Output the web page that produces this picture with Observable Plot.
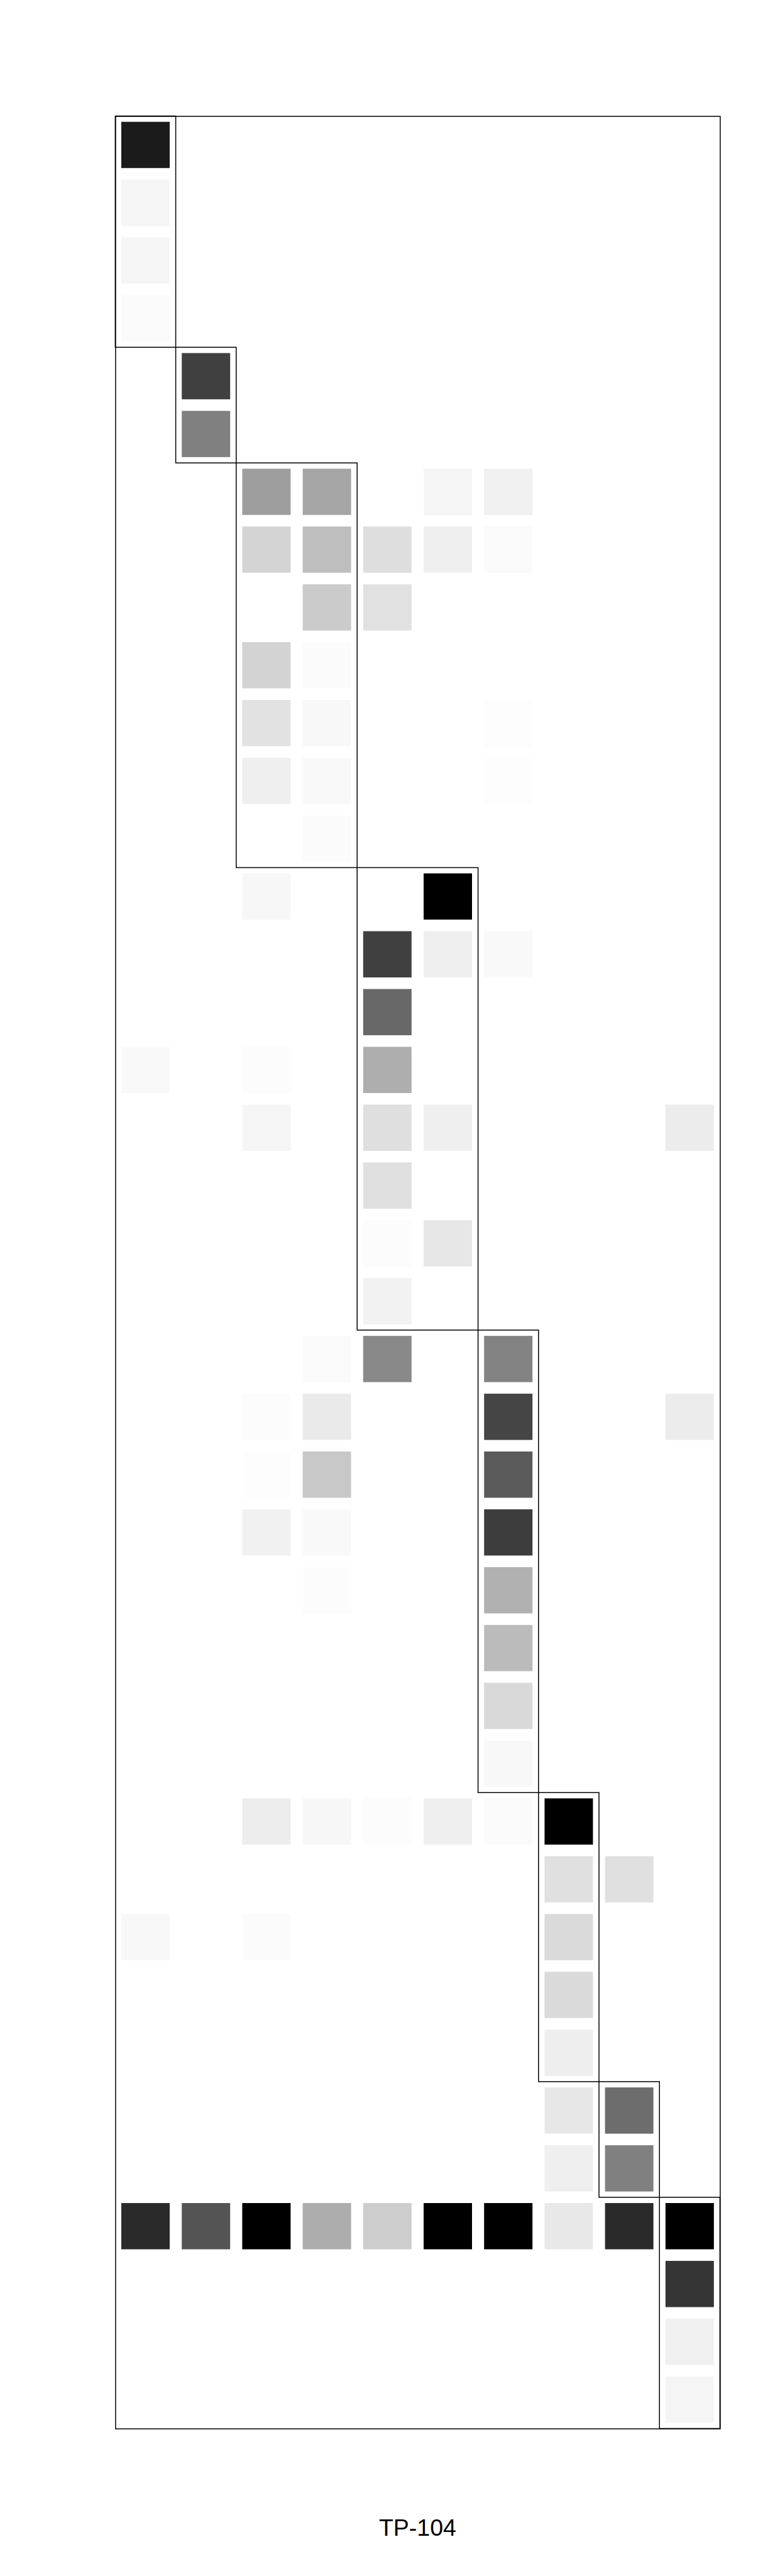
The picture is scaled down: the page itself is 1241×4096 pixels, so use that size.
<!DOCTYPE html>
<html>
<head>
<meta charset="utf-8">
<script src="https://cdn.jsdelivr.net/npm/d3@7"></script>
<script src="https://cdn.jsdelivr.net/npm/@observablehq/plot@0.6"></script>
<style>
  html, body { margin: 0; padding: 0; background: #fff; }
  #wrap { position: relative; width: 1241px; height: 4096px; overflow: hidden; }
  #chart svg { display: block; }
  #caption {
    position: absolute; left: 183.4px; width: 962px; top: 4001.3px;
    text-align: center; font-family: "Liberation Sans", Arial, sans-serif;
    font-size: 37.5px; line-height: 37.5px; color: #000;
  }
</style>
</head>
<body>
<div id="wrap"><div id="chart"></div><div id="caption">TP-104</div></div>
<script>
const nCols = 10;
const nRows = 40;

// non-empty cells: row index, column index, shade (0 = white, 1 = black)
const cellRow = [0,1,2,3,4,5,6,6,6,6,7,7,7,7,7,8,8,9,9,10,10,10,11,11,11,12,13,13,14,14,14,15,16,16,16,17,17,17,17,18,19,19,20,21,21,21,22,22,22,22,23,23,23,24,24,24,25,25,26,27,28,29,29,29,29,29,29,30,30,31,31,31,32,33,34,34,35,35,36,36,36,36,36,36,36,36,36,36,37,38,39];
const cellCol = [0,0,0,0,1,1,2,3,5,6,2,3,4,5,6,3,4,2,3,2,3,6,2,3,6,3,2,5,4,5,6,4,0,2,4,2,4,5,9,4,4,5,4,3,4,6,2,3,6,9,2,3,6,2,3,6,3,6,6,6,6,2,3,4,5,6,7,7,8,0,2,7,7,7,7,8,7,8,0,1,2,3,4,5,6,7,8,9,9,9,9];
const cellShade = [0.894,0.039,0.039,0.020,0.749,0.498,0.380,0.353,0.039,0.059,0.169,0.255,0.129,0.063,0.020,0.204,0.118,0.173,0.016,0.114,0.027,0.008,0.063,0.024,0.008,0.016,0.031,1.0,0.749,0.063,0.024,0.592,0.024,0.012,0.318,0.039,0.125,0.063,0.075,0.122,0.012,0.094,0.051,0.020,0.463,0.486,0.012,0.082,0.729,0.075,0.008,0.216,0.647,0.055,0.024,0.761,0.012,0.306,0.267,0.149,0.027,0.071,0.031,0.012,0.063,0.020,1.0,0.122,0.122,0.027,0.016,0.145,0.145,0.067,0.094,0.573,0.063,0.498,0.835,0.671,1.0,0.322,0.196,1.0,1.0,0.090,0.835,1.0,0.792,0.059,0.039];

// diagonal blocks (column range, row range)
const blockColStart = [0,1,2,4,6,7,8,9];
const blockColEnd   = [1,2,4,6,7,8,9,10];
const blockRowStart = [0,4,6,13,21,29,34,36];
const blockRowEnd   = [4,6,13,21,29,34,36,40];

const cells = cellRow.map((r, i) => ({row: r, col: cellCol[i], shade: cellShade[i]}));
const blocks = blockColStart.map((c, i) => ({c0: c, c1: blockColEnd[i], r0: blockRowStart[i], r1: blockRowEnd[i]}));

const chart = Plot.plot({
  width: 1241,
  height: 3900,
  marginLeft: 183.4,
  marginRight: 95.6,
  marginTop: 184.5,
  marginBottom: 38.5,
  x: {domain: [0, nCols], axis: null},
  y: {domain: [0, nRows], reverse: true, axis: null},
  color: {type: "linear", domain: [0, 1], range: ["#ffffff", "#000000"]},
  marks: [
    Plot.rect(cells, {
      x1: "col", x2: d => d.col + 1,
      y1: "row", y2: d => d.row + 1,
      fill: "shade",
      insetLeft: 9.6, insetRight: 9.6, insetTop: 9.2, insetBottom: 9.2
    }),
    Plot.rect(blocks, {
      x1: "c0", x2: "c1", y1: "r0", y2: "r1",
      fill: "none", stroke: "#000", strokeWidth: 1.5
    }),
    Plot.frame({stroke: "#000", strokeWidth: 1.5})
  ]
});
document.getElementById("chart").appendChild(chart);
</script>
</body>
</html>
